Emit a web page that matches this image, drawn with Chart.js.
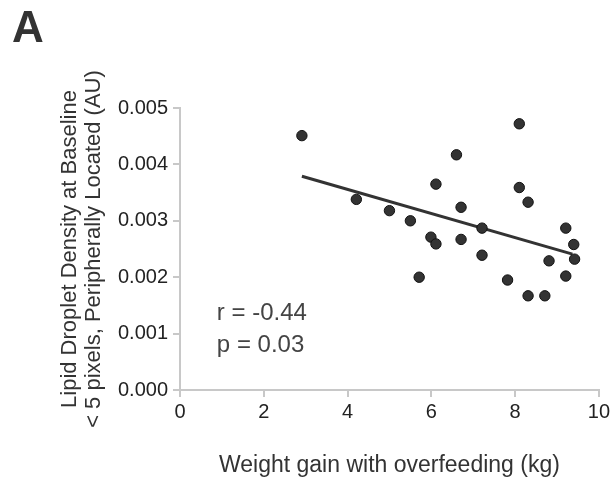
<!DOCTYPE html>
<html>
<head>
<meta charset="utf-8">
<script src="https://cdn.jsdelivr.net/npm/chart.js@4"></script>
<style>
  body { margin: 0; background: #fff; }
  #wrap { width: 613px; height: 485px; position: relative; }
</style>
</head>
<body>
<div id="wrap"><canvas id="grafico"></canvas></div>
<script>
// weight gain (kg) and lipid droplet density
const ganhoPeso = [2.91, 4.21, 5.0, 5.5, 5.71, 5.99, 6.11, 6.11, 6.6, 6.71, 6.71, 7.21,
                   7.21, 7.82, 8.1, 8.1, 8.31, 8.31, 8.71, 8.81, 9.21, 9.21, 9.4, 9.42];
const densidade = [0.00451, 0.00338, 0.00318, 0.00300, 0.00200, 0.00271, 0.00259, 0.00365,
                   0.00417, 0.00324, 0.00267, 0.00287, 0.00239, 0.00195, 0.00472, 0.00359,
                   0.00333, 0.00167, 0.00167, 0.00229, 0.00287, 0.00202, 0.00258, 0.00232];

// regression line end points
const retaX = [2.91, 9.37];
const retaY = [0.00379, 0.00241];

const xTicks = [0, 2, 4, 6, 8, 10];
const yTicks = [0, 0.001, 0.002, 0.003, 0.004, 0.005];

const estatisticas = ["r = -0.44", "p = 0.03"];

const pontos = ganhoPeso.map((x, i) => ({ x: x, y: densidade[i] }));
const reta = retaX.map((x, i) => ({ x: x, y: retaY[i] }));

// texto "A" e estatisticas
const textosPlugin = {
    id: 'textos',
    afterDraw(chart) {
        const ctx = chart.ctx;
        const sx = chart.scales.x, sy = chart.scales.y;
        ctx.save();
        ctx.fillStyle = '#333';
        ctx.font = 'bold 44px "Liberation Sans", Arial, sans-serif';
        ctx.textBaseline = 'alphabetic';
        ctx.textAlign = 'left';
        ctx.fillText('A', 12, 42);

        ctx.fillStyle = '#444';
        ctx.font = '24px "Liberation Sans", Arial, sans-serif';
        ctx.textBaseline = 'middle';
        const x0 = sx.getPixelForValue(0.88);
        ctx.fillText(estatisticas[0], x0, sy.getPixelForValue(0.00135));
        ctx.fillText(estatisticas[1], x0, sy.getPixelForValue(0.0008));
        ctx.restore();
    }
};

const eixoCor = '#c8c8c8';

new Chart(document.getElementById('grafico'), {
    type: 'scatter',
    data: {
        datasets: [
            {
                data: pontos,
                backgroundColor: '#333',
                borderColor: '#111',
                borderWidth: 1,
                pointRadius: 5.2,
                order: 0
            },
            {
                type: 'line',
                data: reta,
                borderColor: '#333',
                borderWidth: 3,
                pointRadius: 0,
                fill: false,
                order: 1
            }
        ]
    },
    options: {
        responsive: true,
        maintainAspectRatio: false,
        animation: false,
        layout: { padding: { left: 50, right: 13, top: 108, bottom: 0 } },
        plugins: {
            legend: { display: false },
            tooltip: { enabled: false }
        },
        scales: {
            x: {
                type: 'linear',
                min: 0,
                max: 10,
                afterBuildTicks: s => { s.ticks = xTicks.map(v => ({ value: v })); },
                afterFit: s => { s.height = 95; },
                grid: { drawOnChartArea: false, drawTicks: true, tickLength: 7, color: eixoCor, lineWidth: 2 },
                border: { display: true, color: eixoCor, width: 2 },
                ticks: { color: '#222', padding: 3, font: { family: '"Liberation Sans", Arial', size: 20 } },
                title: {
                    display: true,
                    text: 'Weight gain with overfeeding (kg)',
                    color: '#333',
                    padding: { top: 0, bottom: 6 },
                    font: { family: '"Liberation Sans", Arial', size: 23 }
                }
            },
            y: {
                type: 'linear',
                min: 0,
                max: 0.005,
                afterBuildTicks: s => { s.ticks = yTicks.map(v => ({ value: v })); },
                afterFit: s => { s.width = 130; },
                grid: { drawOnChartArea: false, drawTicks: true, tickLength: 7, color: eixoCor, lineWidth: 2 },
                border: { display: true, color: eixoCor, width: 2 },
                ticks: {
                    color: '#222',
                    padding: 5,
                    font: { family: '"Liberation Sans", Arial', size: 20 },
                    callback: v => Number(v).toFixed(3)
                },
                title: {
                    display: true,
                    text: ['Lipid Droplet Density at Baseline', '< 5 pixels, Peripherally Located (AU)'],
                    color: '#333',
                    padding: { top: 8, bottom: 0 },
                    font: { family: '"Liberation Sans", Arial', size: 22, lineHeight: 1.08 }
                }
            }
        }
    },
    plugins: [textosPlugin]
});
</script>
</body>
</html>
